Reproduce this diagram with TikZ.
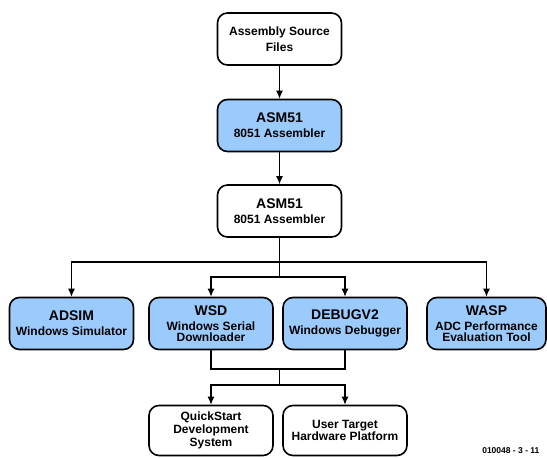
\documentclass[tikz,border=0pt]{standalone}
\usepackage{fontspec}
\setmainfont{Liberation Sans}
\usepackage{xcolor}
\usetikzlibrary{arrows.meta}

\definecolor{toolblue}{RGB}{155,203,252}

\tikzset{
    box/.style={draw, line width=1.6pt, rounded corners=10pt, minimum width=124pt,
        minimum height=52pt, align=center, inner sep=2pt,
        font=\bfseries\fontsize{12}{11}\selectfont},
    tool/.style={box, fill=toolblue},
    target/.style={box, minimum height=50pt, font=\bfseries\fontsize{12}{12.7}\selectfont},
    link/.style={line width=1.1pt, ->},
    >={Latex[length=8pt,width=7pt]}
}

\newcommand{\ttl}[1]{{\fontsize{14}{14}\selectfont #1}\\[4pt]}

\begin{document}
\begin{tikzpicture}[x=1pt, y=-1pt]
        \useasboundingbox (0,0) rectangle (547,458);

        \node[box] at (279.5, 39) (src) {Assembly Source\\[3.5pt]Files};
        \node[tool] at (279.5, 125.5) (asmA) {\ttl{ASM51}8051 Assembler};
        \node[box] at (279.5, 211) (asmB) {\ttl{ASM51}8051 Assembler};

        \node[tool] at (71.5, 323.5) (adsim) {\ttl{ADSIM}Windows Simulator};
        \node[tool] at (211, 323.5) (wsd) {\ttl{WSD}Windows Serial\\Downloader};
        \node[tool] at (345, 323.5) (debug) {\ttl{DEBUGV2}Windows Debugger};
        \node[tool, minimum width=119pt] at (486.5, 323.5) (wasp) {\ttl{WASP}ADC Performance\\Evaluation Tool};

        \node[target] at (211, 430.5) (quick) {QuickStart\\Development\\System};
        \node[target] at (345, 430.5) (user) {User Target\\Hardware Platform};

        \node[anchor=base east, font=\bfseries\fontsize{8.5}{9}\selectfont] at (543, 453) (ref) {010048 - 3 - 11};

        \coordinate (hubT) at (279.5, 262);
        \coordinate (hubL) at (279.5, 277);
        \coordinate (merge) at (279.5, 369);
        \coordinate (split) at (279.5, 385);

        \draw[link] (src) -- (asmA);
        \draw[link] (asmA) -- (asmB);

        \draw[line width=1.1pt] (asmB.south) -- (hubL);
        \draw[link] (hubT) -| (adsim.north);
        \draw[link] (hubT) -| (wasp.north);
        \draw[link] (hubL) -| (wsd.north);
        \draw[link] (hubL) -| (debug.north);

        \draw[line width=1.1pt] (wsd.south) |- (merge) -| (debug.south);
        \draw[line width=1.1pt] (merge) -- (split);
        \draw[link] (split) -| (quick.north);
        \draw[link] (split) -| (user.north);
    \end{tikzpicture}
\end{document}
